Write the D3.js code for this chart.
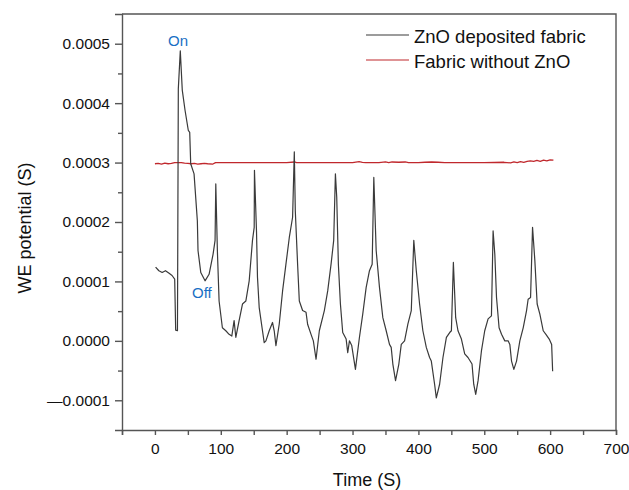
<!DOCTYPE html>
<html>
<head>
<meta charset="utf-8">
<script src="https://cdn.jsdelivr.net/npm/d3@7"></script>
<style>
  body { margin: 0; background: #fff; }
  svg { font-family: Arial, "Liberation Sans", sans-serif; }
  .axis path, .axis line { stroke: #555; stroke-width: 1.4; }
  .axis text { fill: #111; font-size: 15.5px; }
</style>
</head>
<body>
<svg id="chart" width="629" height="490"></svg>
<script>
// time (S) and WE potential (in units of 1e-4 S)
var znoTime = [1, 6, 11, 16, 21, 26, 30, 31.5, 34.2, 35.5,
  38.5, 41.5, 45.7, 50.7, 52.8, 54.3, 59.4, 64.4, 65.4, 69.6,
  76.1, 82.2, 88.3, 91.3, 92.4, 94.8, 97.4, 102.4, 107.6, 112.6,
  116.7, 120.2, 122.8, 127.8, 132.9, 138, 143.1, 148.1, 150.7, 151.1,
  154.2, 155.7, 158.3, 163.3, 165.9, 168.5, 173.5, 178.5, 181.1, 183.7,
  188.7, 193.8, 198.9, 204, 209, 211.6, 213.1, 216.6, 219.2, 224.2,
  229.4, 231.8, 237, 240.5, 244.6, 249.6, 257.2, 262.3, 267.4, 271.4,
  274, 276, 278.5, 281.6, 285.1, 290.3, 292.7, 295.3, 298.8, 304.4,
  310.5, 315.5, 320.7, 325.7, 329.8, 332.3, 335.9, 340.9, 346, 351.1,
  356.1, 358.7, 361.2, 365.3, 370.3, 374, 379, 384, 389.2, 393,
  396.8, 401.8, 406.8, 412, 417, 419.6, 424.6, 427.2, 432.2, 437.3,
  442.5, 447.5, 450.1, 453.1, 456.6, 460.1, 465.3, 470.3, 475.3, 481.4,
  484, 487, 490.6, 495.7, 500.7, 505.8, 510.9, 513.4, 516, 518.6,
  522.5, 526.2, 531.2, 536.2, 538.8, 541.4, 544.9, 549, 554, 559.1,
  564.2, 566.6, 570.3, 573.3, 576.8, 580.3, 584.4, 589.5, 593.6, 598.6,
  602.3, 603.8];

var znoValue = [1.24, 1.18, 1.15, 1.18, 1.14, 1.10, 1.04, 0.18, 0.17, 4.24,
  4.88, 4.22, 3.88, 3.54, 3.51, 2.98, 2.81, 2.02, 1.52, 1.15,
  1.01, 1.12, 1.46, 1.69, 2.64, 1.52, 0.67, 0.22, 0.17, 0.11,
  0.08, 0.34, 0.06, 0.34, 0.62, 0.67, 1.01, 1.69, 1.91, 2.87,
  1.85, 1.07, 0.56, 0.17, -0.03, 0, 0.17, 0.31, 0.17, -0.08,
  0.28, 0.84, 1.29, 1.74, 2.08, 3.18, 2.19, 1.29, 0.67, 0.51,
  0.48, 0.28, 0.11, 0, -0.31, 0.17, 0.51, 0.84, 1.29, 1.69,
  2.81, 2.42, 1.29, 0.62, 0.14, 0.03, -0.2, 0, -0.08, -0.48,
  0.06, 0.45, 0.9, 1.18, 1.29, 2.75, 1.52, 0.9, 0.39, 0.17,
  -0.06, -0.11, -0.39, -0.67, -0.39, -0.06, 0, 0.28, 0.51, 1.69,
  1.18, 0.62, 0.17, -0.11, -0.28, -0.34, -0.73, -0.96, -0.73, -0.28,
  0.06, 0.14, 0.17, 1.32, 0.39, 0.17, 0.03, -0.22, -0.28, -0.39,
  -0.73, -0.9, -0.67, -0.17, 0.17, 0.37, 0.42, 1.85, 1.46, 0.73,
  0.22, 0.11, 0, 0, -0.06, -0.34, -0.48, -0.34, 0, 0.22,
  0.51, 0.70, 0.73, 1.91, 1.35, 0.62, 0.45, 0.17, 0.11, 0.03,
  -0.06, -0.51];

var bareTime = [0, 5, 10, 15, 20, 25, 30, 40, 45, 50, 55, 60, 65, 70, 75, 80, 88, 92,
  150, 200, 212, 215, 250, 300, 310, 315, 320, 340, 350, 355, 360, 370, 380, 385,
  400, 410, 420, 430, 440, 460, 500, 530, 540, 545, 550, 555, 560, 565, 570, 575,
  580, 585, 590, 595, 600, 605];

var bareValue = [2.98, 2.985, 2.975, 2.99, 2.98, 2.985, 3.0, 3.0, 2.99, 2.985, 2.98, 2.985, 2.975, 2.98, 2.985, 2.98, 2.975, 3.0,
  3.0, 3.0, 3.01, 3.0, 3.0, 3.0, 3.015, 3.005, 3.0, 3.0, 3.01, 3.0, 3.01, 3.005, 3.01, 3.0,
  3.0, 3.005, 3.01, 3.005, 3.0, 3.0, 3.0, 3.005, 2.995, 3.01, 3.0, 3.015, 3.005, 3.02, 3.03, 3.02,
  3.035, 3.02, 3.04, 3.03, 3.045, 3.04];

var UNIT = 1e-4;

var seriesNames = ['ZnO deposited fabric', 'Fabric without ZnO'];
var seriesColors = ['#3a3a3a', '#c0282d'];

var xMajor = [0, 100, 200, 300, 400, 500, 600, 700];
var xMinor = [-50, 50, 150, 250, 350, 450, 550, 650];
var yMajor = [-0.0001, 0, 0.0001, 0.0002, 0.0003, 0.0004, 0.0005];
var yMinor = [-0.00015, -0.00005, 0.00005, 0.00015, 0.00025, 0.00035, 0.00045, 0.00055];

var toPoints = function( ts, vs ) {
	return ts.map( function( t, i ) { return { t: t, v: vs[i] * UNIT }; });
};

var series = [ toPoints( znoTime, znoValue ), toPoints( bareTime, bareValue ) ];

var margin = { left: 122, right: 13, top: 14, bottom: 60 };
var width = 629 - margin.left - margin.right;
var height = 490 - margin.top - margin.bottom;

var svg = d3.select('#chart');
var g = svg.append('g').attr('transform', 'translate(' + margin.left + ',' + margin.top + ')');

var x = d3.scaleLinear().domain([-50, 700]).range([0, width]);
var y = d3.scaleLinear().domain([-0.00015, 0.00055]).range([height, 0]);

var yFormat = function( d ) {
	var s = Math.abs( d ).toFixed(4);
	return d < 0 ? '\u2014' + s : s;
};

// frame (top + right)
g.append('path')
	.attr('d', 'M0,0H' + width + 'V' + height)
	.attr('fill', 'none')
	.attr('stroke', '#555')
	.attr('stroke-width', 1.4);

g.append('g').attr('class', 'axis')
	.attr('transform', 'translate(0,' + height + ')')
	.call( d3.axisBottom(x).tickValues(xMajor).tickSize(5).tickPadding(8).tickFormat(d3.format('d')) );

g.append('g').attr('class', 'axis')
	.attr('transform', 'translate(0,' + height + ')')
	.call( d3.axisBottom(x).tickValues(xMinor).tickSize(5).tickFormat('') )
	.select('.domain').remove();

g.append('g').attr('class', 'axis')
	.call( d3.axisLeft(y).tickValues(yMajor).tickSize(7).tickPadding(5).tickFormat(yFormat) );

g.append('g').attr('class', 'axis')
	.call( d3.axisLeft(y).tickValues(yMinor.filter(function(d){ return d > -0.00015 && d < 0.00055; })).tickSize(4).tickFormat('') )
	.select('.domain').remove();

var line = d3.line()
	.x( function(d) { return x(d.t); } )
	.y( function(d) { return y(d.v); } );

// red first, black on top
[1, 0].forEach( function( i ) {
	g.append('path')
		.datum( series[i] )
		.attr('fill', 'none')
		.attr('stroke', seriesColors[i])
		.attr('stroke-width', i === 0 ? 1.2 : 1.3)
		.attr('stroke-linejoin', 'round')
		.attr('d', line);
});

// legend
var legend = g.append('g').attr('transform', 'translate(' + (366 - margin.left) + ',' + (35 - margin.top) + ')');
seriesNames.forEach( function( name, i ) {
	var row = legend.append('g').attr('transform', 'translate(0,' + (i * 25) + ')');
	row.append('line')
		.attr('x1', 0).attr('x2', 43)
		.attr('stroke', seriesColors[i]).attr('stroke-width', 1.2);
	row.append('text')
		.attr('x', 48).attr('y', 7.5)
		.attr('font-size', '18.5px')
		.attr('fill', '#111')
		.text( name );
});

// annotations
g.append('text')
	.attr('x', x(35)).attr('y', 46 - margin.top)
	.attr('text-anchor', 'middle')
	.attr('font-size', '15px')
	.attr('fill', '#1a6fc4')
	.text('On');

g.append('text')
	.attr('x', 192 - margin.left).attr('y', 298 - margin.top)
	.attr('font-size', '15px')
	.attr('fill', '#1a6fc4')
	.text('Off');

// axis titles
svg.append('text')
	.attr('x', 367).attr('y', 486)
	.attr('text-anchor', 'middle')
	.attr('font-size', '18px')
	.attr('fill', '#111')
	.text('Time (S)');

svg.append('text')
	.attr('transform', 'translate(31,228) rotate(-90)')
	.attr('text-anchor', 'middle')
	.attr('font-size', '18px')
	.attr('fill', '#111')
	.text('WE potential (S)');
</script>
</body>
</html>
